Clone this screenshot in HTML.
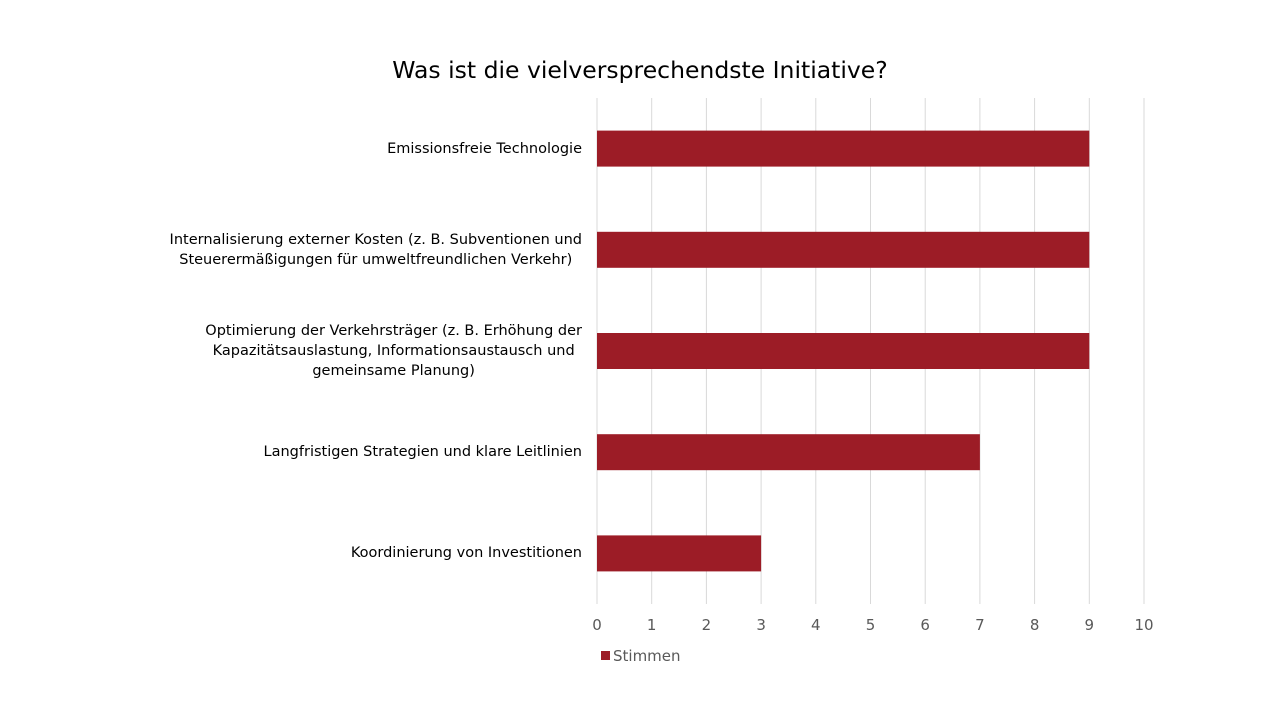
<!DOCTYPE html>
<html><head><meta charset="utf-8"><style>
body{margin:0;width:1280px;height:720px;background:#fff;font-family:"DejaVu Sans","Liberation Sans",sans-serif;position:relative;overflow:hidden}
#title{position:absolute;top:56px;left:0;width:1280px;text-align:center;font-size:23.5px;color:#000}
.lbl{position:absolute;right:698px;text-align:center;font-size:14.5px;line-height:20px;color:#000;white-space:nowrap;transform:translateY(-50%)}
svg{position:absolute;left:0;top:0}
</style></head><body>
<div id="title">Was ist die vielversprechendste Initiative?</div>
<svg id="chart" width="1280" height="720"></svg>
<script>
const categories=["Emissionsfreie Technologie","Internalisierung externer Kosten (z. B. Subventionen und<br>Steuerermäßigungen für umweltfreundlichen Verkehr)","Optimierung der Verkehrsträger (z. B. Erhöhung der<br>Kapazitätsauslastung, Informationsaustausch und<br>gemeinsame Planung)","Langfristigen Strategien und klare Leitlinien","Koordinierung von Investitionen"];
const values=[9,9,9,7,3];
const ticks=[0,1,2,3,4,5,6,7,8,9,10];
const seriesName="Stimmen";
const NS="http://www.w3.org/2000/svg";
const svgEl=document.getElementById('chart');
const plotX0=597,plotX1=1144,plotTop=98,plotBot=604;
const xs=v=>plotX0+(plotX1-plotX0)*v/10;
const band=(plotBot-plotTop)/categories.length;
const barH=36;
function mk(t,a){const e=document.createElementNS(NS,t);for(const k in a)e.setAttribute(k,a[k]);svgEl.appendChild(e);return e;}
ticks.forEach(t=>{
 const g=mk('line',{x1:xs(t),x2:xs(t),y1:plotTop,y2:plotBot,stroke:'#d9d9d9','stroke-width':1});
 
 
 const tx=mk('text',{x:xs(t),y:630,'text-anchor':'middle','font-size':15,fill:'#595959','font-family':'DejaVu Sans, sans-serif'});
 tx.textContent=t;
 
 
});
categories.forEach((c,i)=>{
 const cy=plotTop+band*(i+0.5);
 const r=mk('rect',{x:plotX0,y:cy-barH/2,width:xs(values[i])-plotX0,height:barH,fill:'#9c1c26'});
 
 
 const d=document.createElement('div');
 d.className='lbl';d.style.top=cy+'px';d.innerHTML=c;
 
 
 document.body.appendChild(d);
});
const ls=mk('rect',{x:601,y:651,width:9,height:9,fill:'#9c1c26'});


const lt=mk('text',{x:613,y:661,'font-size':15,fill:'#595959','font-family':'DejaVu Sans, sans-serif'});
lt.textContent=seriesName;


</script>
</body></html>
